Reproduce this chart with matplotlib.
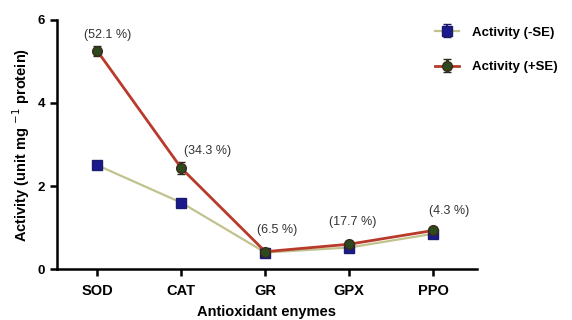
import matplotlib
matplotlib.use("Agg")
import matplotlib.pyplot as plt

plt.rcParams['font.family'] = ['Liberation Sans', 'DejaVu Sans']

categories = ["SOD", "CAT", "GR", "GPX", "PPO"]
act_minus = [2.5, 1.6, 0.4, 0.52, 0.85]
err_minus = [0.06, 0.06, 0.04, 0.05, 0.05]
act_plus = [5.25, 2.43, 0.42, 0.6, 0.93]
err_plus = [0.12, 0.15, 0.05, 0.07, 0.08]
pct_labels = ["(52.1 %)", "(34.3 %)", "(6.5 %)", "(17.7 %)", "(4.3 %)"]
label_y = [5.5, 2.7, 0.8, 1.0, 1.25]
label_dx = [0.12, 0.31, 0.14, 0.04, 0.19]

fig = plt.figure(figsize=(5.72, 3.2), dpi=100)
ax = fig.add_axes([0.0997, 0.159, 0.734, 0.779])
x = list(range(len(categories)))

ax.errorbar(x, act_minus, yerr=err_minus, color='#c2c28e', lw=1.6,
            marker='s', ms=7, mfc='#1a1a8c', mec='#1a1a6e',
            ecolor='#1a1a6e', capsize=3, label='Activity (-SE)', zorder=3)
ax.errorbar(x, act_plus, yerr=err_plus, color='#b83a2a', lw=2.0,
            marker='o', ms=7, mfc='#2d4a1e', mec='#3a2a1a',
            ecolor='#2a2a1a', capsize=3, label='Activity (+SE)', zorder=4)

for xi, (t, yv, dx) in enumerate(zip(pct_labels, label_y, label_dx)):
    ax.text(xi + dx, yv, t, ha='center', va='bottom', fontsize=9, color='#333333')

ax.set_xlim(-0.48, 4.52)
ax.set_ylim(0, 6)
ax.set_yticks([0, 2, 4, 6])
ax.set_xticks(x)
ax.set_xticklabels(categories, fontsize=10.5, fontweight='bold')
for lab in ax.get_yticklabels():
    lab.set_fontsize(9.5)
    lab.set_fontweight('bold')
ax.spines['top'].set_visible(False)
ax.spines['right'].set_visible(False)
ax.spines['left'].set_linewidth(1.8)
ax.spines['bottom'].set_linewidth(1.8)
ax.tick_params(width=1.8, length=5)
ax.tick_params(axis='x', pad=6)
ax.set_xlabel('Antioxidant enymes', fontsize=10.5, fontweight='bold', labelpad=5)
ax.set_ylabel('Activity (unit mg $^{-1}$ protein)', fontsize=10.5, fontweight='bold')

fig.legend(loc='upper left', bbox_to_anchor=(0.74, 0.955), frameon=False,
           prop={'weight': 'bold', 'size': 9.5}, handlelength=1.8,
           labelspacing=1.7, handletextpad=1.0)

fig.savefig('out.png', dpi=100)
